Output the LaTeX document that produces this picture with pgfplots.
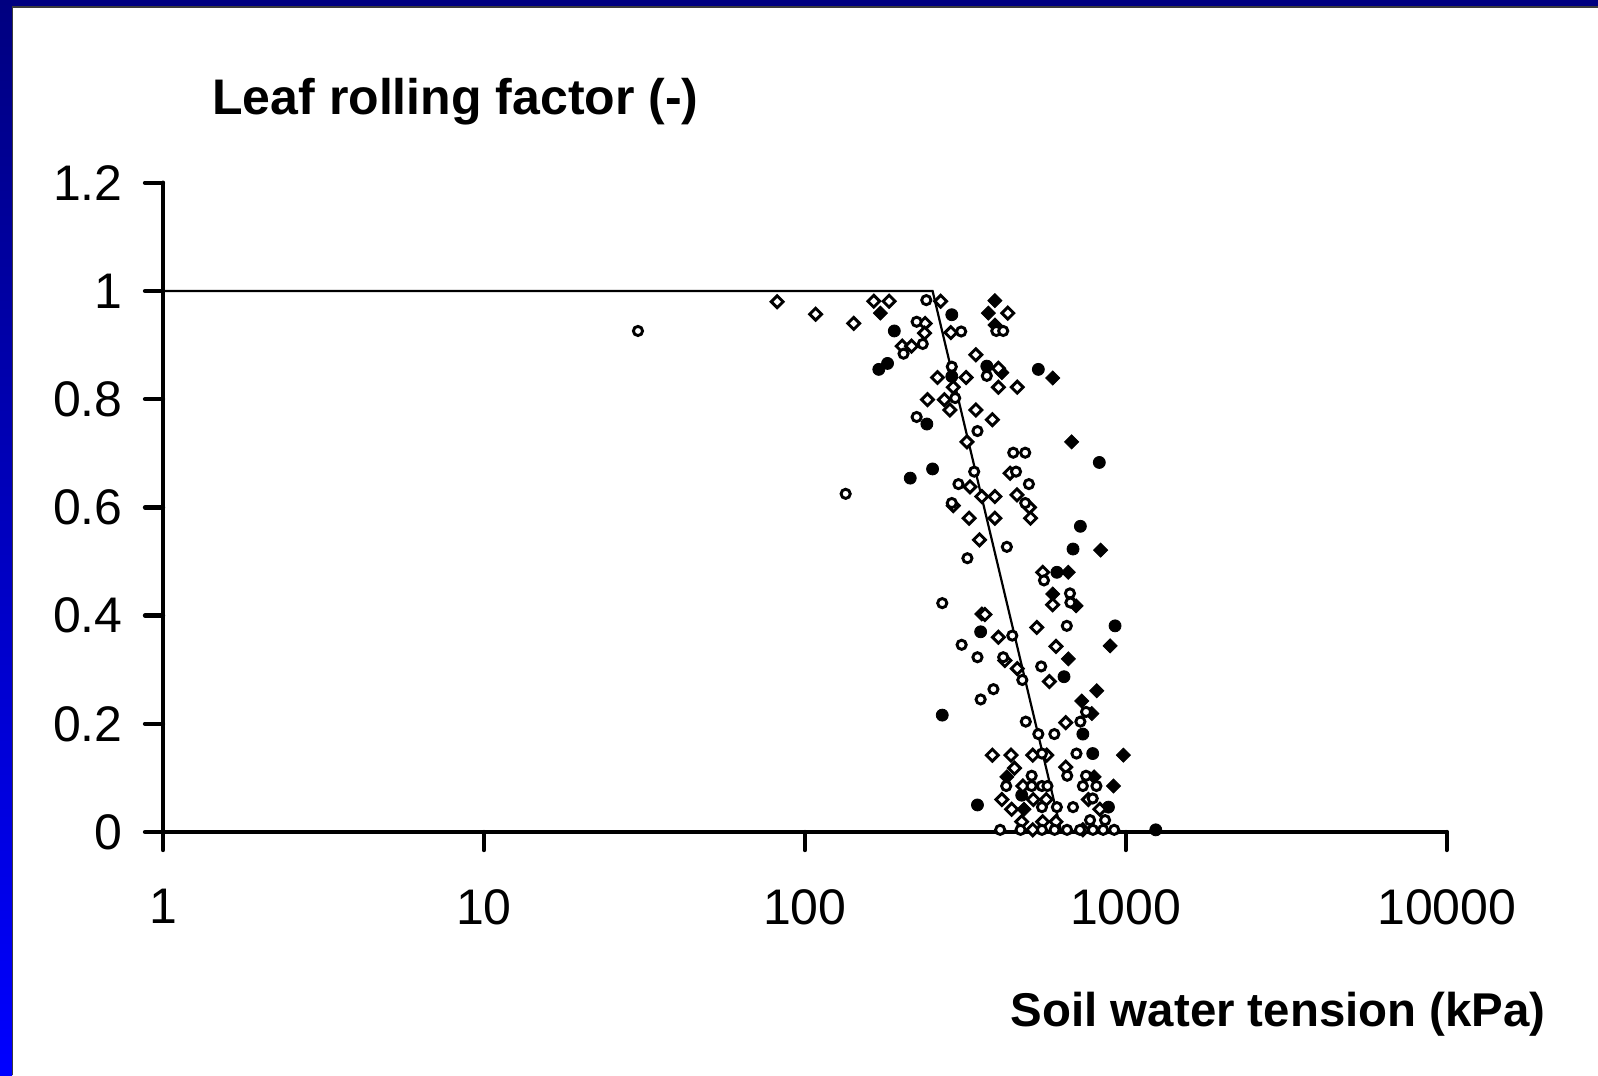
\documentclass[border=0pt]{standalone}
\usepackage{pgfplots}
\pgfplotsset{compat=1.18}
\usepackage{fontspec}
\setmainfont{Liberation Sans}
\definecolor{navyb}{RGB}{0,0,128}
\definecolor{blueb}{RGB}{0,0,255}
\definecolor{frameline}{RGB}{60,60,60}
\begin{document}
\begin{tikzpicture}
\path[use as bounding box] (0,0) rectangle (799pt,-537.5pt);
\fill[white] (0,0) rectangle (799pt,-537.5pt);
\fill[navyb] (0,0) rectangle (799pt,-3.2pt);
\shade[top color=navyb, bottom color=blueb] (0,0) rectangle (6pt,-537.5pt);
\draw[frameline, line width=0.6pt] (6.3pt,-537.5pt) -- (6.3pt,-3.5pt) -- (799pt,-3.5pt);
\node[anchor=base west, inner sep=0pt, font=\fontsize{25}{30}\selectfont\bfseries] at (106pt,-57.5pt) {Leaf rolling factor (-)};
\node[anchor=base east, inner sep=0pt, font=\fontsize{23.7}{28}\selectfont\bfseries] at (773pt,-513.4pt) {Soil water tension (kPa)};
\begin{axis}[
  at={(81.5pt,-416pt)}, anchor=south west,
  scale only axis, width=641.85pt, height=324.65pt,
  xmode=log, xmin=1, xmax=10000, ymin=0, ymax=1.2,
  axis lines*=left,
  axis line style={line width=2.2pt, black, line cap=round},
  tick style={line width=2.2pt, black, line cap=round},
  tick align=outside, major tick length=9pt,
  xtick={1,10,100,1000,10000}, xticklabels={1,10,100,1000,10000},
  ytick={0,0.2,0.4,0.6,0.8,1,1.2}, yticklabels={0,0.2,0.4,0.6,0.8,1,1.2},
  xminorticks=false, yminorticks=false,
  /pgf/number format/assume math mode=true,
  ticklabel style={font=\fontsize{25}{30}\selectfont},
  xticklabel style={anchor=north, inner sep=0pt}, xticklabel shift=19.5pt,
  yticklabel style={anchor=east, inner sep=0pt}, yticklabel shift=11pt,
  clip=false,
]
\addplot[black, line width=1.1pt, mark=none] coordinates {(1,1) (250,1) (630,0)};
% filled circles
\addplot[only marks, mark=*, mark size=3pt, mark options={fill=black, draw=black, line width=0.4pt}] coordinates {
(190,0.926) (181,0.866) (170,0.855) (287,0.956) (369,0.861) (534,0.855) (287,0.842)
(240,0.754) (250,0.671) (213,0.654) (827,0.683) (722,0.565) (685,0.523) (926,0.381)
(353,0.370) (642,0.287) (268,0.216) (735,0.181) (789,0.145) (345,0.050) (474,0.068)
(883,0.046) (610,0.480) (1240,0.004)
};
% filled diamonds
\addplot[only marks, mark=square*, mark size=2.5pt, mark options={rotate=45, fill=black, draw=black, line width=0.4pt}] coordinates {
(172,0.959) (391,0.982) (373,0.959) (391,0.937) (411,0.849) (592,0.839) (678,0.721)
(835,0.521) (662,0.480) (592,0.440) (700,0.418) (356,0.403) (894,0.344) (662,0.320)
(812,0.261) (729,0.242) (784,0.219) (983,0.142) (426,0.102) (797,0.102) (915,0.085)
(482,0.042)
};
% open diamonds
\addplot[only marks, mark=square*, mark size=2.1pt, mark options={rotate=45, fill=white, draw=black, line width=1.45pt}] coordinates {
(82,0.980) (108,0.957) (142,0.940) (164,0.981) (183,0.981) (201,0.898) (215,0.898)
(237,0.940) (236,0.922) (265,0.981) (285,0.923) (429,0.959) (341,0.882) (401,0.857)
(401,0.822) (459,0.822) (259,0.840) (318,0.840) (290,0.822) (241,0.799) (272,0.799)
(283,0.780) (341,0.780) (384,0.762) (320,0.721) (327,0.638) (356,0.620) (391,0.620)
(436,0.663) (458,0.623) (501,0.600) (505,0.580) (290,0.603) (325,0.580) (391,0.580)
(350,0.540) (551,0.480) (592,0.420) (364,0.402) (528,0.378) (401,0.360) (606,0.343)
(420,0.317) (459,0.302) (578,0.278) (650,0.202) (384,0.142) (439,0.142) (513,0.142)
(567,0.142) (450,0.118) (650,0.120) (478,0.085) (411,0.060) (441,0.042) (515,0.060)
(565,0.060) (765,0.060) (830,0.042) (551,0.019) (606,0.019) (474,0.019) (513,0.004)
(735,0.004)
};
% open circles
\addplot[only marks, mark=*, mark size=2.3pt, mark options={fill=white, draw=black, line width=1.45pt}] coordinates {
(30.2,0.926) (134,0.625) (203,0.884) (223,0.943) (233,0.902) (239,0.983) (307,0.925)
(395,0.926) (415,0.926) (369,0.843) (287,0.860) (294,0.802) (345,0.741) (223,0.767)
(446,0.701) (486,0.701) (337,0.666) (301,0.643) (455,0.666) (499,0.643) (486,0.608)
(287,0.608) (426,0.527) (321,0.506) (556,0.465) (670,0.441) (672,0.424) (268,0.423)
(655,0.381) (443,0.363) (308,0.346) (345,0.323) (415,0.323) (545,0.306) (476,0.281)
(387,0.264) (353,0.245) (752,0.222) (488,0.204) (722,0.204) (534,0.181) (599,0.181)
(548,0.145) (702,0.145) (424,0.085) (509,0.104) (509,0.085) (548,0.085) (570,0.085)
(657,0.104) (752,0.104) (735,0.085) (810,0.085) (548,0.046) (610,0.046) (685,0.046)
(789,0.062) (774,0.022) (862,0.022) (406,0.004) (470,0.004) (548,0.004) (600,0.004)
(656,0.004) (720,0.004) (790,0.004) (850,0.004) (920,0.004)
};
\end{axis}
\end{tikzpicture}
\end{document}
